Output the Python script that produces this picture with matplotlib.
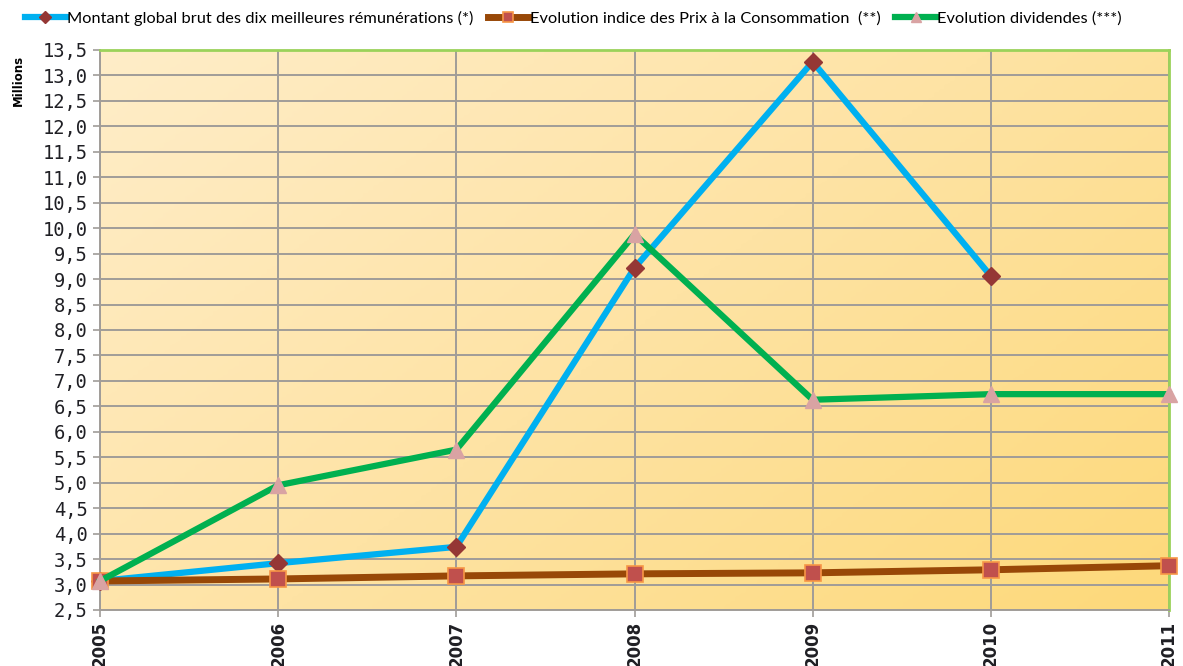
import numpy as np
import matplotlib.pyplot as plt
from matplotlib.colors import LinearSegmentedColormap
from matplotlib.ticker import FuncFormatter

years = [2005, 2006, 2007, 2008, 2009, 2010, 2011]
remunerations = [3.07, 3.42, 3.74, 9.22, 13.27, 9.06, np.nan]
prix_conso = [3.07, 3.11, 3.17, 3.21, 3.23, 3.29, 3.37]
dividendes = [3.07, 4.95, 5.65, 9.88, 6.63, 6.74, 6.74]

labels = ['Montant global brut des dix meilleures rémunérations (*)',
          'Evolution indice des Prix à la Consommation  (**)',
          'Evolution dividendes (***)']

fig = plt.figure(figsize=(11.83, 6.66), dpi=100)
ax = fig.add_axes([100 / 1183, 1 - 610 / 666, 1069 / 1183, 560 / 666])

# background gradient, cream top-left to yellow bottom-right
cmap = LinearSegmentedColormap.from_list('bg', ['#FFEDC8', '#FEE3A4', '#FDD97A'])
gx, gy = np.meshgrid(np.linspace(0, 1, 200), np.linspace(0, 1, 200))
grad = (gx * 0.6 + gy * 0.4)
ax.imshow(grad, cmap=cmap, extent=[0, 1, 0, 1], transform=ax.transAxes,
          aspect='auto', origin='upper', zorder=0)

ax.plot(years, remunerations, color='#00B0F0', lw=4.5, marker='D', ms=9,
        mfc='#953735', mec='#953735', clip_on=False, zorder=3, label=labels[0])
ax.plot(years, prix_conso, color='#984807', lw=5, marker='s', ms=11,
        mfc='#C0504D', mec='#F79646', mew=1.2, clip_on=False, zorder=4, label=labels[1])
ax.plot(years, dividendes, color='#00B050', lw=4.5, marker='^', ms=12,
        mfc='#D9A3A3', mec='#D9A3A3', clip_on=False, zorder=5, label=labels[2])

ax.set_xlim(2005, 2011)
ax.set_ylim(2.5, 13.5)
ax.set_xticks(years)
ax.set_yticks(np.arange(2.5, 13.51, 0.5))
ax.yaxis.set_major_formatter(FuncFormatter(lambda v, p: f'{v:.1f}'.replace('.', ',')))
ax.set_axisbelow(True)
ax.grid(True, color='#A09C98', lw=1.4)

for s in ['left', 'bottom']:
    ax.spines[s].set_color('#A09C98')
    ax.spines[s].set_linewidth(1.4)
for s in ['top', 'right']:
    ax.spines[s].set_color('#9BD25A')
    ax.spines[s].set_linewidth(2)

ax.tick_params(axis='y', length=5, width=1.2, color='#A09C98', pad=4)
ax.tick_params(axis='x', length=5, width=1.2, color='#A09C98', pad=3)
for t in ax.get_yticklabels():
    t.set_fontfamily('DejaVu Sans Mono')
    t.set_fontsize(13.5)
    t.set_color('#1F1F24')
for t in ax.get_xticklabels():
    t.set_rotation(90)
    t.set_fontweight('bold')
    t.set_fontsize(12)
    t.set_color('#1F1F24')

fig.text(18 / 1183, 1 - 80 / 666, 'Millions', rotation=90, fontsize=8.5,
         fontweight='bold', ha='center', va='center')

fig.legend(loc='center left', bbox_to_anchor=(25 / 1183, 1 - 18 / 666), ncol=3,
           frameon=False, prop={'family': 'Lato', 'size': 11.8},
           handlelength=2.5, handletextpad=0.05, columnspacing=0.9,
           markerscale=0.65, borderaxespad=0, borderpad=0)

fig.savefig('out.png', dpi=100)
